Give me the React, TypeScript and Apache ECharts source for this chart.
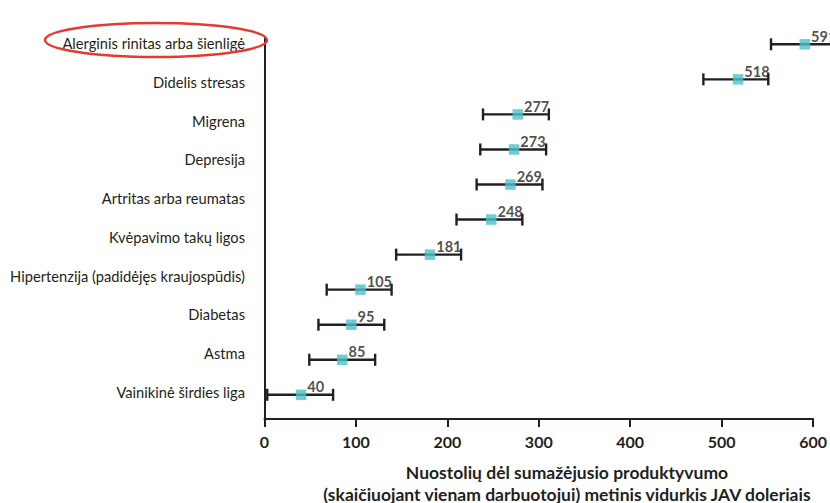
import React, { useEffect, useRef } from "react";
import * as echarts from "echarts";

// Category labels (top to bottom, as printed)
const categoryLabels = [
  "Alerginis rinitas arba šienligė",
  "Didelis stresas",
  "Migrena",
  "Depresija",
  "Artritas arba reumatas",
  "Kvėpavimo takų ligos",
  "Hipertenzija (padidėjęs kraujospūdis)",
  "Diabetas",
  "Astma",
  "Vainikinė širdies liga",
];

// Data rows (bottom to top): mean value and error bar range
const meanValues = [40, 85, 95, 105, 181, 248, 269, 273, 277, 518, 591];
const lowValues = [3, 49, 59, 68, 144, 210, 232, 236, 239, 480, 554];
const highValues = [75, 121, 131, 139, 215, 282, 304, 308, 311, 551, 627];

const xTicks = [0, 100, 200, 300, 400, 500, 600];

const titleText =
  "Nuostolių dėl sumažėjusio produktyvumo\n(skaičiuojant vienam darbuotojui) metinis vidurkis JAV doleriais";

const DARK = "#231f20";
const CYAN = "#4bc0c8";
const FONT = "Lato";

export default function App() {
  const ref = useRef<HTMLDivElement>(null);

  useEffect(() => {
    document.body.style.margin = "0";
    if (!ref.current) return;
    const chart = echarts.init(ref.current, null, { renderer: "svg" });

    const scatterData = meanValues.map((v, i) => [v, i]);
    const errData = meanValues.map((_, i) => [lowValues[i], highValues[i], i]);

    chart.setOption({
      animation: false,
      backgroundColor: "#ffffff",
      grid: [
        { left: 264.5, right: 13.5, top: 38, bottom: 84 },
        { left: 264.5, right: 13.5, top: 24, bottom: 92 },
      ],
      xAxis: [
        {
          gridIndex: 0,
          type: "value",
          min: xTicks[0],
          max: xTicks[xTicks.length - 1],
          interval: 100,
          axisLine: { show: true, onZero: false, lineStyle: { color: DARK, width: 2 } },
          axisTick: { show: true, length: 8, lineStyle: { color: DARK, width: 2 } },
          axisLabel: {
            color: DARK,
            fontFamily: FONT,
            fontWeight: "bold",
            fontSize: 16,
            margin: 14,
          },
          splitLine: { show: false },
        },
        { gridIndex: 1, type: "value", show: false, min: 0, max: 600 },
      ],
      yAxis: [
        {
          gridIndex: 0,
          type: "value",
          min: -0.69,
          max: 10.18,
          axisLine: { show: true, lineStyle: { color: DARK, width: 2 } },
          axisTick: { show: false },
          axisLabel: { show: false },
          splitLine: { show: false },
        },
        {
          gridIndex: 1,
          type: "category",
          inverse: true,
          data: categoryLabels,
          axisLine: { show: false },
          axisTick: { show: false },
          splitLine: { show: false },
          axisLabel: {
            color: DARK,
            fontFamily: FONT,
            fontSize: 14.7,
            margin: 19.5,
          },
        },
      ],
      graphic: [
        {
          type: "ellipse",
          shape: { cx: 156, cy: 40, rx: 111, ry: 17 },
          style: { fill: "none", stroke: "#e63a2e", lineWidth: 2.5 },
          z: 100,
        },
        {
          type: "text",
          x: 567,
          y: 461,
          style: {
            text: titleText,
            fill: DARK,
            fontFamily: FONT,
            fontWeight: "bold",
            fontSize: 17.5,
            lineHeight: 22,
            align: "center",
            verticalAlign: "top",
          },
        },
      ],
      series: [
        {
          type: "custom",
          xAxisIndex: 0,
          yAxisIndex: 0,
          clip: false,
          z: 2,
          data: errData,
          encode: { x: [0, 1], y: 2 },
          renderItem: (params: any, api: any) => {
            const lo = api.coord([api.value(0), api.value(2)]);
            const hi = api.coord([api.value(1), api.value(2)]);
            const cap = 6;
            const style = { stroke: DARK, lineWidth: 2.4 };
            return {
              type: "group",
              children: [
                { type: "line", shape: { x1: lo[0], y1: lo[1], x2: hi[0], y2: hi[1] }, style },
                { type: "line", shape: { x1: lo[0], y1: lo[1] - cap, x2: lo[0], y2: lo[1] + cap }, style },
                { type: "line", shape: { x1: hi[0], y1: hi[1] - cap, x2: hi[0], y2: hi[1] + cap }, style },
              ],
            };
          },
        },
        {
          type: "scatter",
          xAxisIndex: 0,
          yAxisIndex: 0,
          clip: false,
          z: 3,
          symbol: "rect",
          symbolSize: 10.5,
          itemStyle: { color: CYAN },
          data: scatterData,
          label: {
            show: true,
            position: "right",
            distance: 1,
            offset: [0, -8],
            color: DARK,
            fontFamily: FONT,
            fontWeight: "bold",
            fontSize: 14.5,
            formatter: (p: any) => String(p.value[0]),
          },
        },
      ],
    });

    return () => chart.dispose();
  }, []);

  return <div ref={ref} style={{ width: 830, height: 503 }} />;
}
